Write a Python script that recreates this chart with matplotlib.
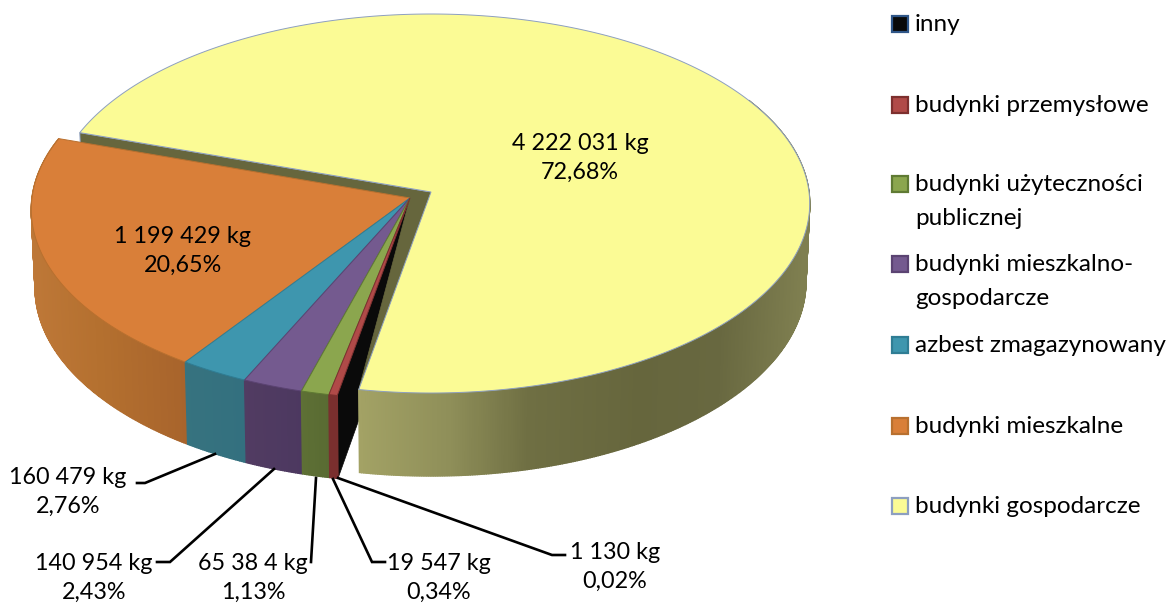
import numpy as np
import matplotlib
matplotlib.use("Agg")
import matplotlib.pyplot as plt

plt.rcParams['font.family'] = ['Lato', 'DejaVu Sans']

# slices, clockwise starting from the big yellow one
names = ['budynki gospodarcze', 'inny', 'budynki przemysłowe', 'budynki użyteczności\npublicznej',
         'budynki mieszkalno-\ngospodarcze', 'azbest zmagazynowany', 'budynki mieszkalne']
kg = [4222031, 1130, 19547, 65384, 140954, 160479, 1199429]
kg_labels = ['4 222 031 kg', '1 130 kg', '19 547 kg', '65 38 4 kg', '140 954 kg', '160 479 kg', '1 199 429 kg']
pct_labels = ['72,68%', '0,02%', '0,34%', '1,13%', '2,43%', '2,76%', '20,65%']
top_colors = ['#FBFB95', '#0A0A0A', '#B04A48', '#8BA64E', '#745A8F', '#3E96AE', '#D97F39']
edge_colors = ['#8D9FC0', '#2F5688', '#7D2F2E', '#5F7A33', '#5B4372', '#2F7D94', '#B8702F']
legend_order = [1, 2, 3, 4, 5, 6, 0]
legend_y = [24, 105, 184, 264, 345, 426, 506]

# wall shading, by screen x
wall_x = {
    0: ([360, 450, 530, 640, 720, 805], ['#A3A265', '#8F8F59', '#6F6F43', '#66663D', '#686840', '#7F7F50']),
    1: ([330, 360], ['#0A0A0A', '#0A0A0A']),
    2: ([320, 345], ['#7A2F2E', '#7A2F2E']),
    3: ([300, 335], ['#5E7035', '#586A32']),
    4: ([240, 305], ['#523C62', '#4C3860']),
    5: ([180, 245], ['#37737F', '#33707F']),
    6: ([30, 100, 185], ['#BE7838', '#B4702F', '#A8642C']),
}

first_angle = 161.3
KX, KY, PERSP, DEPTH = 378.0, 188.8, 0.0607, 78.0
main_tip = (410.0, 198.0)
yellow_tip = (431.0, 192.0)


def proj(tip, ang, bottom=False):
    u = np.cos(np.radians(ang))
    v = np.sin(np.radians(ang))
    w = 1 + PERSP * v
    sx = 0.99 if bottom else 1.0
    x = tip[0] + sx * KX * u / w
    y = tip[1] - KY * v / w
    if bottom:
        y = y + DEPTH / w
    return x, y


def wall_color(i, x):
    xs, cs = wall_x[i]
    rgb = np.array([matplotlib.colors.to_rgb(c) for c in cs])
    return [np.interp(x, xs, rgb[:, k]) for k in range(3)]


def arc(tip, a1, a2):
    angs = np.linspace(a1, a2, max(int(abs(a2 - a1) * 3), 2))
    pts = [proj(tip, a) for a in angs]
    return [p[0] for p in pts], [p[1] for p in pts]


def draw_wall(ax, i, tip, a1, a2):
    angs = np.linspace(a1, a2, max(int(abs(a2 - a1) * 3), 2) + 1)
    for a, b in zip(angs[:-1], angs[1:]):
        p1, p2 = proj(tip, a), proj(tip, b)
        p3, p4 = proj(tip, b, bottom=True), proj(tip, a, bottom=True)
        c = wall_color(i, (p1[0] + p2[0]) / 2)
        ax.fill([p1[0], p2[0], p3[0], p4[0]], [p1[1], p2[1], p3[1], p4[1]],
                color=c, lw=1.0)


def draw_top(ax, i, tip, a1, a2, edge):
    xs, ys = arc(tip, a1, a2)
    ax.fill([tip[0]] + xs, [tip[1]] + ys, facecolor=top_colors[i], edgecolor=edge, lw=0.7)


fig = plt.figure(figsize=(11.74, 6.04), dpi=100)
ax = fig.add_axes([0, 0, 1, 1])
ax.set_xlim(0, 1174)
ax.set_ylim(604, 0)
ax.axis('off')

# angles of the slices, going clockwise
spans = np.array(kg) / np.sum(kg) * 360
ends = first_angle - np.cumsum(spans) + 360
starts = np.concatenate([[first_angle + 360], ends[:-1]])

# yellow: cut face at the back-left, seen under the rim
p0 = proj(yellow_tip, starts[0])
p0b = proj(yellow_tip, starts[0], bottom=True)
ax.fill([p0[0], yellow_tip[0], yellow_tip[0], p0b[0]],
        [p0[1], yellow_tip[1], yellow_tip[1] + DEPTH, p0b[1]],
        facecolor='#66663D', edgecolor='#8D9FC0', lw=0.7)

# black slice shows only its cut face
r1 = proj(main_tip, ends[1])
r1b = proj(main_tip, ends[1], bottom=True)
ax.fill([main_tip[0], r1[0], r1b[0], main_tip[0]],
        [main_tip[1], r1[1], r1b[1], main_tip[1] + DEPTH],
        color=top_colors[1], lw=0.5)

# olive strip between the two tips
pe = proj(yellow_tip, ends[0])
ax.fill([yellow_tip[0], pe[0], main_tip[0]], [yellow_tip[1], pe[1], main_tip[1]],
        color='#66663D', lw=0.5)

# only the front part of the yellow wall can be seen
draw_wall(ax, 0, yellow_tip, ends[0], 360 + 30)
draw_top(ax, 0, yellow_tip, starts[0], ends[0], '#8D9FC0')

# the other slices, back to front
for i in [6, 5, 4, 3, 2]:
    draw_wall(ax, i, main_tip, ends[i], starts[i])
for i in [6, 5, 4, 3, 2]:
    draw_top(ax, i, main_tip, starts[i], ends[i], edge_colors[i])

# labels inside the slices
fs = 16.8
fs_legend = 17.5
ls = 1.5
ax.text(580, 158, kg_labels[0] + '\n' + pct_labels[0], ha='center', va='center', fontsize=fs, linespacing=ls, color='black')
ax.text(183, 251, kg_labels[6] + '\n' + pct_labels[6], ha='center', va='center', fontsize=fs, linespacing=ls, color='black')

# leader lines and outer labels
leaders = {
    5: ([137, 145, 215], [483, 483, 454], 68, 492),
    4: ([157, 170, 274], [562, 562, 469], 94, 578),
    3: ([311, 311, 316], [562, 562, 478], 253, 578),
    2: ([385, 372, 333], [562, 562, 479], 439, 578),
    1: ([565, 552, 338], [555, 555, 478], 615, 567),
}
for i, (lx, ly, tx, ty) in leaders.items():
    ax.plot(lx, ly, color='black', lw=1.9, solid_joinstyle='miter')
    ax.text(tx, ty, kg_labels[i] + '\n' + pct_labels[i], ha='center', va='center', fontsize=fs, linespacing=ls, color='black')

# legend
for i, y in zip(legend_order, legend_y):
    ax.add_patch(plt.Rectangle((892, y - 8), 16, 16, facecolor=top_colors[i], edgecolor=edge_colors[i], lw=1.6))
    ax.text(915, y - 10, names[i], ha='left', va='top', fontsize=fs_legend, linespacing=1.75, color='black')

fig.savefig('out.png', dpi=100)
